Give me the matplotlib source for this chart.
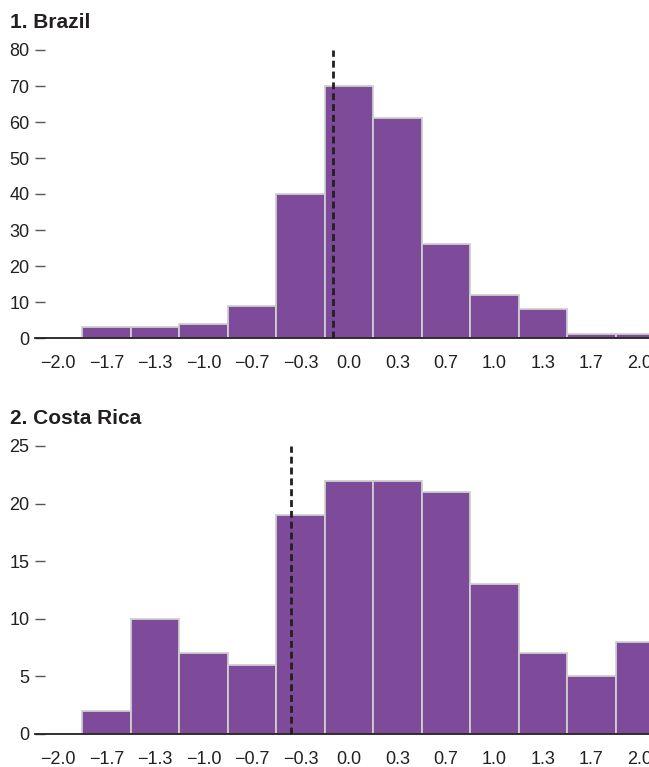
import numpy as np
import matplotlib.pyplot as plt
from matplotlib import font_manager

# pick a narrow sans if there is one
names = {f.name for f in font_manager.fontManager.ttflist}
narrow = 'Liberation Sans Narrow' if 'Liberation Sans Narrow' in names else 'Liberation Sans'
plt.rcParams['font.family'] = [narrow, 'DejaVu Sans']

# bin centres (thirds from -5/3 to 2) and counts
bins = np.arange(-5, 7) / 3.0
brazil = [3, 3, 4, 9, 40, 70, 61, 26, 12, 8, 1, 1]
costa_rica = [2, 10, 7, 6, 19, 22, 22, 21, 13, 7, 5, 8]
brazil_mark = -0.11
costa_rica_mark = -0.40

tick_vals = np.arange(-6, 7) / 3.0
tick_labels = ['%.1f' % v for v in tick_vals]
tick_labels = [t.replace('-', '\u2212') for t in tick_labels]

panels = [
    ('1. Brazil', brazil, brazil_mark, 80, 10),
    ('2. Costa Rica', costa_rica, costa_rica_mark, 25, 5),
]

W, H = 649, 767
fig = plt.figure(figsize=(W / 100, H / 100), dpi=100)

bottoms = [767 - 338, 767 - 734]
title_y = [23, 419]
purple = '#7e4b9b'

for (title, counts, mark, ytop, ystep), b, ty in zip(panels, bottoms, title_y):
    ax = fig.add_axes([35 / W, b / H, 614 / W, 288 / H])
    ax.bar(bins, counts, width=1 / 3, color=purple, edgecolor='#cfcfcf',
           linewidth=1.3, zorder=2)
    ax.plot([mark, mark], [0, ytop], color='#231f20', lw=2,
            linestyle=(0, (2.5, 1.4)), zorder=3, clip_on=False)
    ax.set_xlim(-2.158, 2.062)
    ax.set_ylim(0, ytop)
    for s in ['top', 'right', 'left']:
        ax.spines[s].set_visible(False)
    ax.spines['bottom'].set_color('#231f20')
    ax.spines['bottom'].set_linewidth(1.3)
    ax.spines['bottom'].set_zorder(4)
    ax.set_xticks(tick_vals)
    ax.set_xticklabels(tick_labels)
    ax.set_yticks(np.arange(0, ytop + 1, ystep))
    ax.tick_params(axis='x', length=0, pad=12, labelsize=13, labelcolor='#231f20')
    ax.tick_params(axis='y', direction='in', length=7, width=1, color='#555555',
                   pad=4, labelsize=13, labelcolor='#231f20')
    fig.text(10 / W, 1 - ty / H, title, fontsize=15, fontweight='bold',
             color='#231f20', va='center', ha='left')

fig.savefig('out.png', dpi=100)
